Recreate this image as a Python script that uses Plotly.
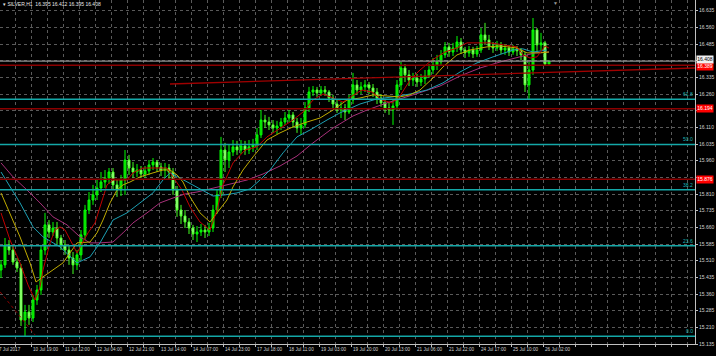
import plotly.graph_objects as go

# ---------------- data ----------------
title_text = "SILVER,H1  16.395 16.412 16.395 16.408"

opens = [15.468,15.491,15.581,15.558,15.504,15.477,15.243,15.279,15.252,15.333,
         15.378,15.558,15.671,15.639,15.657,15.612,15.581,15.558,15.522,15.491,
         15.536,15.626,15.738,15.783,15.806,15.837,15.864,15.882,15.909,15.851,
         15.828,15.873,15.963,15.927,15.909,15.918,15.900,15.914,15.941,15.954,
         15.932,15.918,15.927,15.909,15.828,15.738,15.711,15.684,15.657,15.630,
         15.639,15.648,15.639,15.657,15.738,15.806,16.008,15.963,15.999,16.022,
         16.008,16.026,16.008,16.022,16.031,16.076,16.143,16.134,16.121,16.107,
         16.116,16.134,16.152,16.166,16.134,16.107,16.121,16.197,16.269,16.278,
         16.265,16.278,16.269,16.242,16.215,16.188,16.197,16.179,16.233,16.301,
         16.278,16.292,16.301,16.287,16.269,16.242,16.220,16.197,16.188,16.206,
         16.301,16.377,16.346,16.323,16.332,16.314,16.328,16.341,16.368,16.391,
         16.404,16.436,16.472,16.449,16.467,16.494,16.458,16.445,16.458,16.440,
         16.458,16.526,16.503,16.476,16.467,16.481,16.458,16.467,16.449,16.463,
         16.454,16.436,16.301,16.368,16.548,16.481,16.490,16.395]
highs = [15.513,15.612,15.603,15.576,15.522,15.495,15.311,15.311,15.356,15.401,
         15.581,15.725,15.693,15.684,15.684,15.626,15.603,15.581,15.549,15.558,
         15.648,15.761,15.819,15.851,15.873,15.909,15.918,15.927,15.927,15.873,
         15.896,16.008,15.986,15.954,15.945,15.936,15.936,15.963,15.972,15.963,
         15.950,15.950,15.945,15.927,15.846,15.761,15.738,15.702,15.671,15.666,
         15.675,15.671,15.680,15.761,15.828,16.067,16.040,16.031,16.053,16.049,
         16.053,16.049,16.053,16.058,16.107,16.188,16.166,16.157,16.143,16.139,
         16.152,16.179,16.188,16.179,16.152,16.152,16.224,16.292,16.296,16.292,
         16.296,16.296,16.278,16.256,16.233,16.224,16.215,16.256,16.355,16.323,
         16.314,16.323,16.314,16.305,16.287,16.260,16.238,16.224,16.233,16.323,
         16.404,16.395,16.368,16.355,16.350,16.350,16.368,16.395,16.422,16.436,
         16.458,16.494,16.490,16.490,16.521,16.512,16.472,16.476,16.472,16.476,
         16.557,16.580,16.526,16.494,16.499,16.494,16.485,16.481,16.481,16.476,
         16.467,16.449,16.404,16.602,16.557,16.535,16.499,16.412]
lows = [15.432,15.477,15.536,15.491,15.459,15.216,15.167,15.221,15.234,15.311,
        15.356,15.536,15.612,15.621,15.581,15.558,15.536,15.491,15.450,15.468,
        15.513,15.603,15.720,15.761,15.783,15.819,15.837,15.855,15.828,15.797,
        15.801,15.806,15.896,15.882,15.887,15.882,15.882,15.896,15.918,15.909,
        15.891,15.882,15.873,15.806,15.707,15.675,15.657,15.630,15.603,15.594,
        15.621,15.612,15.621,15.639,15.720,15.792,15.909,15.927,15.981,15.986,
        15.990,15.986,15.990,15.999,16.008,16.062,16.107,16.098,16.085,16.080,
        16.098,16.121,16.134,16.107,16.085,16.076,16.107,16.179,16.251,16.247,
        16.251,16.251,16.224,16.197,16.175,16.152,16.143,16.170,16.215,16.256,
        16.260,16.269,16.260,16.247,16.215,16.202,16.175,16.166,16.121,16.188,
        16.278,16.314,16.296,16.296,16.292,16.296,16.305,16.332,16.350,16.368,
        16.386,16.422,16.427,16.431,16.449,16.440,16.422,16.427,16.422,16.427,
        16.445,16.481,16.458,16.445,16.454,16.440,16.436,16.431,16.436,16.431,
        16.413,16.269,16.233,16.346,16.449,16.458,16.390,16.395]
closes = [15.491,15.581,15.558,15.504,15.477,15.243,15.279,15.252,15.333,15.378,
          15.558,15.671,15.639,15.657,15.612,15.581,15.558,15.522,15.491,15.536,
          15.626,15.738,15.783,15.806,15.837,15.864,15.882,15.909,15.851,15.828,
          15.873,15.963,15.927,15.909,15.918,15.900,15.914,15.941,15.954,15.932,
          15.918,15.927,15.909,15.828,15.738,15.711,15.684,15.657,15.630,15.639,
          15.648,15.639,15.657,15.738,15.806,16.008,15.963,15.999,16.022,16.008,
          16.026,16.008,16.022,16.031,16.076,16.143,16.134,16.121,16.107,16.116,
          16.134,16.152,16.166,16.134,16.107,16.121,16.197,16.269,16.278,16.265,
          16.278,16.269,16.242,16.215,16.188,16.197,16.179,16.233,16.301,16.278,
          16.292,16.301,16.287,16.269,16.242,16.220,16.197,16.188,16.206,16.301,
          16.377,16.346,16.323,16.332,16.314,16.328,16.341,16.368,16.391,16.404,
          16.436,16.472,16.449,16.467,16.494,16.458,16.445,16.458,16.440,16.458,
          16.526,16.503,16.476,16.467,16.481,16.458,16.467,16.449,16.463,16.454,
          16.436,16.301,16.368,16.548,16.481,16.490,16.395,16.408]
bars = list(range(len(closes)))

ma_red_x = [0,2.25,4.75,6.75,8.5,9.75,10.5,12.25,13.5,14.75,16,17.25,19,20.5,21.75,23.5,24.75,26.5,28,31.5,
            33,35.5,41.5,43,45.25,47.25,49.75,52.25,54,55.5,58,61,64,66.5,69.75,73,75.5,78,80.5,83,
            85.5,87.75,90.25,92.75,95.25,97.75,99.75,102.25,104.75,107.75,111,114,116.5,122.25,126,129,130.5,132.25,134,136,137]
ma_red_y = [15.725,15.603,15.500,15.401,15.333,15.392,15.468,15.590,15.648,15.662,15.648,15.603,15.545,15.594,15.635,15.680,15.747,15.851,15.873,15.873,
            15.905,15.927,15.927,15.887,15.828,15.752,15.684,15.648,15.738,15.851,15.950,16.008,16.022,16.067,16.107,16.143,16.179,16.233,16.260,16.242,
            16.224,16.251,16.278,16.269,16.233,16.220,16.251,16.323,16.368,16.413,16.449,16.467,16.490,16.490,16.481,16.472,16.436,16.422,16.427,16.476,16.467]

ma_yel_x = [0,2.25,4.75,7.25,8.75,10.5,13,15.5,17.25,19,22.25,24,25.5,27.25,29,30.5,32.25,34.75,38,40.5,
            42.25,44,45.5,47.25,49.75,52.25,54,56.5,58,60.5,63,66.5,69.75,73,76.5,79.75,83,86.5,89.75,93,
            96.5,99.75,102.25,104.75,108,110.5,114,117.25,121.5,124.75,129,131.5,134.75,137]
ma_yel_y = [15.815,15.725,15.617,15.500,15.414,15.437,15.468,15.500,15.545,15.590,15.594,15.635,15.693,15.770,15.828,15.851,15.864,15.887,15.905,15.918,
            15.918,15.896,15.864,15.797,15.725,15.684,15.725,15.783,15.842,15.918,15.977,16.053,16.085,16.112,16.134,16.152,16.188,16.233,16.242,16.256,
            16.251,16.247,16.256,16.278,16.332,16.382,16.436,16.458,16.472,16.476,16.467,16.445,16.445,16.449]

ma_cyan_x = [0,2.25,4.75,8,10.5,14.75,19,22.25,24.75,28,31.5,34.75,38,40.5,42.25,44.75,48,50.5,53,56,
             59,62.25,64.75,67.25,70.5,74,77.25,81.5,84.75,89.75,94,98,102.25,106.5,110.5,114.75,119,123,128,130.5,133,136.5]
ma_cyan_y = [15.909,15.842,15.770,15.662,15.617,15.572,15.500,15.527,15.590,15.693,15.725,15.770,15.815,15.873,15.905,15.882,15.851,15.828,15.801,15.806,
             15.815,15.833,15.873,15.918,15.995,16.067,16.098,16.143,16.175,16.215,16.238,16.247,16.260,16.278,16.310,16.359,16.400,16.427,16.458,16.463,16.449,16.458]

ma_mag_x = [0,3,6.5,9.75,13,16.5,19.75,22.25,24.75,28,30.5,33,36.5,39.75,43,46,49,53,57.25,61.5,
            65.5,69.75,74,78,83,88,91.5,96.5,103,109.75,114.75,119.75,124.75,129.75,133.5,137]
ma_mag_y = [15.950,15.887,15.828,15.770,15.707,15.671,15.617,15.590,15.590,15.594,15.635,15.680,15.725,15.770,15.792,15.810,15.819,15.837,15.855,15.873,
            15.900,15.936,15.981,16.040,16.107,16.161,16.188,16.220,16.256,16.296,16.341,16.377,16.404,16.427,16.445,16.449]

trend_x = [42.25, 173.5]
trend_y = [16.305, 16.377]
dotted_x = [-0.25, 8.5]
dotted_y = [15.370, 15.176]

fib_names = ["0.0", "23.6", "38.2", "50.0", "61.8"]
fib_prices = [15.170, 15.577, 15.829, 16.033, 16.236]
red_levels = [16.389, 16.194, 15.876]
last_price = 16.408

x_labels = ["7 Jul 2017", "10 Jul 19:00", "11 Jul 12:00", "12 Jul 04:00", "12 Jul 21:00",
            "13 Jul 14:00", "14 Jul 07:00", "14 Jul 23:00", "17 Jul 18:00", "18 Jul 11:00",
            "19 Jul 03:00", "19 Jul 20:00", "20 Jul 13:00", "21 Jul 06:00", "21 Jul 22:00",
            "24 Jul 17:00", "25 Jul 10:00", "26 Jul 02:00"]
x_label_pos = [-0.25] + [7.5 + 8 * k for k in range(17)]

y_ticks = [round(15.135 + 0.075 * k, 3) for k in range(21)]
y_hidden = [15.885, 16.185, 16.41]   # covered by the price boxes

# ---------------- figure ----------------
FONT = "Liberation Sans"
fig = go.Figure()

fig.add_trace(go.Candlestick(
    x=bars, open=opens, high=highs, low=lows, close=closes,
    increasing=dict(line=dict(color="#00ff00", width=1), fillcolor="#10d000"),
    decreasing=dict(line=dict(color="#44ff22", width=1), fillcolor="#c8ffb0"),
    whiskerwidth=0, hoverinfo="skip", showlegend=False))

def line(x, y, color, width=1, dash="solid"):
    fig.add_trace(go.Scatter(x=x, y=y, mode="lines", line=dict(color=color, width=width, dash=dash),
                             hoverinfo="skip", showlegend=False))

line(ma_mag_x, ma_mag_y, "#a8307a")
line(ma_cyan_x, ma_cyan_y, "#1ca0b4")
line(ma_yel_x, ma_yel_y, "#c0ac00")
line(ma_red_x, ma_red_y, "#c00000")
line(trend_x, trend_y, "#a00000", 1.3)
line(dotted_x, dotted_y, "#900000", 1, "dot")

shapes = []
for p in fib_prices:
    shapes.append(dict(type="line", xref="paper", x0=0, x1=1, yref="y", y0=p, y1=p,
                       line=dict(color="#14a8a8", width=1.5), layer="above"))
for p in red_levels:
    shapes.append(dict(type="line", xref="paper", x0=0, x1=1, yref="y", y0=p, y1=p,
                       line=dict(color="#8b0000", width=1.5), layer="above"))
shapes.append(dict(type="line", xref="paper", x0=0, x1=1, yref="y", y0=last_price, y1=last_price,
                   line=dict(color="#909090", width=1.3), layer="above"))

ann = []
for name, p in zip(fib_names, fib_prices):
    ann.append(dict(x=1, xref="paper", y=p, yref="y", text=name, showarrow=False,
                    xanchor="right", yanchor="bottom", font=dict(family=FONT, size=5, color="#18b4b4")))
for p in red_levels:
    ann.append(dict(x=1, xref="paper", y=p, yref="y", text=f"{p:.3f}", showarrow=False,
                    xanchor="left", yanchor="middle", xshift=1, yshift=(-1.5 if p > last_price - 0.05 else 0),
                    bgcolor="#ff0000", borderpad=0.3,
                    font=dict(family=FONT, size=5, color="#ffffff")))
ann.append(dict(x=1, xref="paper", y=last_price, yref="y", text=f"{last_price:.3f}", showarrow=False,
                xanchor="left", yanchor="middle", xshift=1, yshift=1.8, bgcolor="#f0f0f0", borderpad=0.3,
                font=dict(family=FONT, size=5, color="#000000")))
for i, (t, xp) in enumerate(zip(x_labels, x_label_pos)):
    ann.append(dict(x=xp, xref="x", y=0, yref="paper", text=t, showarrow=False,
                    xanchor="left", yanchor="top", yshift=-1, xshift=(-3 if i == 0 else 0),
                    font=dict(family=FONT, size=4.6, color="#d0d0d0")))
ann.append(dict(x=0, xref="paper", y=1, yref="paper", text="▾ " + title_text, showarrow=False,
                xanchor="left", yanchor="top", xshift=1, yshift=1,
                font=dict(family=FONT, size=5, color="#e8e8e8")))
ann.append(dict(x=138.5, xref="x", y=1, yref="paper", text="▼", showarrow=False,
                xanchor="center", yanchor="top", yshift=2,
                font=dict(family=FONT, size=5, color="#9a9a9a")))

fig.update_layout(
    width=716, height=356,
    margin=dict(l=0, r=21, t=0, b=12, autoexpand=False),
    paper_bgcolor="#000000", plot_bgcolor="#000000",
    shapes=shapes, annotations=ann, showlegend=False, hovermode=False,
    xaxis=dict(range=[-0.25, 173.5], rangeslider=dict(visible=False), automargin=False,
               tickmode="array", tickvals=[3.5 + 4 * k for k in range(43)], showticklabels=False,
               showgrid=True, gridcolor="#5a5a5a", griddash="dot", gridwidth=1,
               minor=dict(showgrid=False, ticks=""),
               ticks="outside", ticklen=2, tickcolor="#c0c0c0",
               showline=True, linecolor="#c0c0c0", linewidth=1, zeroline=False),
    yaxis=dict(range=[15.135, 16.683], side="right", tickmode="array", tickvals=y_ticks, automargin=False,
               ticktext=["" if any(abs(v - h) < 1e-6 for h in y_hidden) else f"{v:.3f}" for v in y_ticks],
               tickfont=dict(family=FONT, size=5, color="#d0d0d0"),
               showgrid=True, gridcolor="#5a5a5a", griddash="dot", gridwidth=1,
               minor=dict(showgrid=False, ticks=""),
               ticks="outside", ticklen=2, tickcolor="#c0c0c0",
               showline=True, linecolor="#c0c0c0", linewidth=1, zeroline=False),
)

fig.write_html("out.html", config={"displayModeBar": False, "staticPlot": True},
               post_script="document.body.style.margin='0';document.body.style.overflow='hidden';")
